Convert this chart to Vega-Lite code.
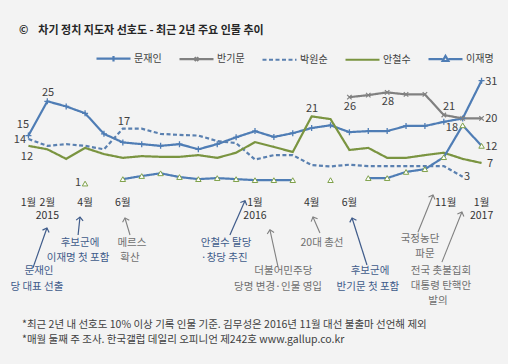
{
  "$schema": "https://vega.github.io/schema/vega-lite/v6.json",
  "width": 472,
  "height": 120,
  "autosize": "none",
  "padding": {"left": 19, "top": 67, "right": 17, "bottom": 177},
  "background": "#f3f3f3",
  "config": {"view": {"stroke": null}, "font": "Noto Sans CJK KR"},
  "title": {"text": "©\u00a0\u00a0\u00a0 차기 정치 지도자 선호도 - 최근 2년 주요 인물 추이", "anchor": "start", "frame": "group", "fontSize": 11, "fontWeight": "bold", "color": "#262626", "offset": 4},
  "datasets": {
    "series": [
      {"name": "문재인", "month": 0, "pct": 15}, {"name": "문재인", "month": 1, "pct": 25}, {"name": "문재인", "month": 2, "pct": 23.5}, {"name": "문재인", "month": 3, "pct": 21.5}, {"name": "문재인", "month": 4, "pct": 15.5}, {"name": "문재인", "month": 5, "pct": 13}, {"name": "문재인", "month": 6, "pct": 12.5}, {"name": "문재인", "month": 7, "pct": 12}, {"name": "문재인", "month": 8, "pct": 12.5}, {"name": "문재인", "month": 9, "pct": 11}, {"name": "문재인", "month": 10, "pct": 12.5}, {"name": "문재인", "month": 11, "pct": 14.5}, {"name": "문재인", "month": 12, "pct": 16.3}, {"name": "문재인", "month": 13, "pct": 14.6}, {"name": "문재인", "month": 14, "pct": 15.7}, {"name": "문재인", "month": 15, "pct": 17.2}, {"name": "문재인", "month": 16, "pct": 18}, {"name": "문재인", "month": 17, "pct": 16}, {"name": "문재인", "month": 18, "pct": 16.3}, {"name": "문재인", "month": 19, "pct": 16.3}, {"name": "문재인", "month": 20, "pct": 17.8}, {"name": "문재인", "month": 21, "pct": 17.8}, {"name": "문재인", "month": 22, "pct": 19}, {"name": "문재인", "month": 23, "pct": 20}, {"name": "문재인", "month": 24, "pct": 31},
      {"name": "반기문", "month": 17, "pct": 26.2}, {"name": "반기문", "month": 18, "pct": 26.8}, {"name": "반기문", "month": 19, "pct": 27.6}, {"name": "반기문", "month": 20, "pct": 27}, {"name": "반기문", "month": 21, "pct": 27}, {"name": "반기문", "month": 22, "pct": 21}, {"name": "반기문", "month": 23, "pct": 20}, {"name": "반기문", "month": 24, "pct": 20},
      {"name": "박원순", "month": 0, "pct": 14}, {"name": "박원순", "month": 1, "pct": 12}, {"name": "박원순", "month": 2, "pct": 12.5}, {"name": "박원순", "month": 3, "pct": 12}, {"name": "박원순", "month": 4, "pct": 11}, {"name": "박원순", "month": 5, "pct": 17}, {"name": "박원순", "month": 6, "pct": 17}, {"name": "박원순", "month": 7, "pct": 15.5}, {"name": "박원순", "month": 8, "pct": 15.2}, {"name": "박원순", "month": 9, "pct": 15}, {"name": "박원순", "month": 10, "pct": 13.4}, {"name": "박원순", "month": 11, "pct": 12.8}, {"name": "박원순", "month": 12, "pct": 8}, {"name": "박원순", "month": 13, "pct": 9.3}, {"name": "박원순", "month": 14, "pct": 9.3}, {"name": "박원순", "month": 15, "pct": 6.4}, {"name": "박원순", "month": 16, "pct": 6}, {"name": "박원순", "month": 17, "pct": 6.5}, {"name": "박원순", "month": 18, "pct": 6.1}, {"name": "박원순", "month": 19, "pct": 6.1}, {"name": "박원순", "month": 20, "pct": 6.1}, {"name": "박원순", "month": 21, "pct": 6.1}, {"name": "박원순", "month": 22, "pct": 6.1}, {"name": "박원순", "month": 23, "pct": 3},
      {"name": "안철수", "month": 0, "pct": 12}, {"name": "안철수", "month": 1, "pct": 11}, {"name": "안철수", "month": 2, "pct": 8.2}, {"name": "안철수", "month": 3, "pct": 11.4}, {"name": "안철수", "month": 4, "pct": 9.6}, {"name": "안철수", "month": 5, "pct": 8.5}, {"name": "안철수", "month": 6, "pct": 9}, {"name": "안철수", "month": 7, "pct": 8.8}, {"name": "안철수", "month": 8, "pct": 8.8}, {"name": "안철수", "month": 9, "pct": 9.3}, {"name": "안철수", "month": 10, "pct": 8.5}, {"name": "안철수", "month": 11, "pct": 10}, {"name": "안철수", "month": 12, "pct": 13.1}, {"name": "안철수", "month": 13, "pct": 11.7}, {"name": "안철수", "month": 14, "pct": 10.2}, {"name": "안철수", "month": 15, "pct": 20.6}, {"name": "안철수", "month": 16, "pct": 19.8}, {"name": "안철수", "month": 17, "pct": 10.8}, {"name": "안철수", "month": 18, "pct": 11.4}, {"name": "안철수", "month": 19, "pct": 8.5}, {"name": "안철수", "month": 20, "pct": 8.5}, {"name": "안철수", "month": 21, "pct": 9.3}, {"name": "안철수", "month": 22, "pct": 10}, {"name": "안철수", "month": 23, "pct": 8.2}, {"name": "안철수", "month": 24, "pct": 7},
      {"name": "이재명", "month": 3, "pct": 1}, {"name": "이재명", "month": 4, "pct": null}, {"name": "이재명", "month": 5, "pct": 2.3}, {"name": "이재명", "month": 6, "pct": 3.2}, {"name": "이재명", "month": 7, "pct": 4}, {"name": "이재명", "month": 8, "pct": 2.9}, {"name": "이재명", "month": 9, "pct": 2.3}, {"name": "이재명", "month": 10, "pct": 2.6}, {"name": "이재명", "month": 11, "pct": 2.3}, {"name": "이재명", "month": 12, "pct": 2}, {"name": "이재명", "month": 13, "pct": 2}, {"name": "이재명", "month": 14, "pct": 2}, {"name": "이재명", "month": 15, "pct": null}, {"name": "이재명", "month": 16, "pct": 2}, {"name": "이재명", "month": 17, "pct": null}, {"name": "이재명", "month": 18, "pct": 2.6}, {"name": "이재명", "month": 19, "pct": 2.6}, {"name": "이재명", "month": 20, "pct": 4.4}, {"name": "이재명", "month": 21, "pct": 5.2}, {"name": "이재명", "month": 22, "pct": 8.7}, {"name": "이재명", "month": 23, "pct": 18}, {"name": "이재명", "month": 24, "pct": 12}
    ],
    "labels": [
      {"t": "15", "mx": -0.29, "vy": 18.1}, {"t": "25", "mx": 1.04, "vy": 27.4}, {"t": "31", "mx": 24.52, "vy": 30.6},
      {"t": "14", "mx": -0.45, "vy": 13.7}, {"t": "17", "mx": 5.06, "vy": 19.0}, {"t": "3", "mx": 23.23, "vy": 2.9},
      {"t": "12", "mx": -0.08, "vy": 8.75}, {"t": "21", "mx": 15.02, "vy": 22.75}, {"t": "7", "mx": 24.45, "vy": 6.7},
      {"t": "26", "mx": 17.03, "vy": 23.3}, {"t": "28", "mx": 19.04, "vy": 24.8}, {"t": "21", "mx": 22.28, "vy": 23.3}, {"t": "20", "mx": 24.52, "vy": 19.8},
      {"t": "1", "mx": 2.63, "vy": 1.2}, {"t": "18", "mx": 22.43, "vy": 17.2}, {"t": "12", "mx": 24.52, "vy": 11.7}
    ],
    "months": [
      {"t": "1월", "mx": 0, "vy": -4.67}, {"t": "2월", "mx": 1, "vy": -4.67}, {"t": "4월", "mx": 3, "vy": -4.67}, {"t": "6월", "mx": 5, "vy": -4.67},
      {"t": "1월", "mx": 12, "vy": -4.67}, {"t": "4월", "mx": 15, "vy": -4.67}, {"t": "6월", "mx": 17, "vy": -4.67}, {"t": "11월", "mx": 22.1, "vy": -4.67}, {"t": "1월", "mx": 24, "vy": -4.67},
      {"t": "2015", "mx": 1, "vy": -8.6}, {"t": "2016", "mx": 12, "vy": -8.6}, {"t": "2017", "mx": 24, "vy": -8.6}
    ],
    "arrows": [
      {"event": "문재인 당 대표 선출", "kind": "인물", "x0": 0.24, "y0": -23.6, "x1": 0.98, "y1": -11.96},
      {"event": "이재명 첫 포함", "kind": "인물", "x0": 2.63, "y0": -14.0, "x1": 2.73, "y1": -8.75},
      {"event": "메르스 확산", "kind": "사건", "x0": 5.38, "y0": -14.0, "x1": 5.11, "y1": -9.04},
      {"event": "안철수 탈당", "kind": "인물", "x0": 10.67, "y0": -14.0, "x1": 11.47, "y1": -4.0},
      {"event": "더불어민주당", "kind": "사건", "x0": 13.22, "y0": -23.3, "x1": 12.79, "y1": -12.5},
      {"event": "20대 총선", "kind": "사건", "x0": 15.44, "y0": -13.4, "x1": 15.07, "y1": -8.75},
      {"event": "반기문 첫 포함", "kind": "인물", "x0": 17.93, "y0": -22.75, "x1": 17.14, "y1": -9.04},
      {"event": "국정농단 파문", "kind": "사건", "x0": 20.63, "y0": -13.2, "x1": 21.43, "y1": -2.33},
      {"event": "촛불집회 탄핵안", "kind": "사건", "x0": 21.9, "y0": -21.9, "x1": 22.96, "y1": -7.3}
    ],
    "notes": [
      {"t": "문재인", "kind": "인물", "mx": 0.56, "vy": -24.6},
      {"t": "당 대표 선출", "kind": "인물", "mx": 0.45, "vy": -29.2},
      {"t": "후보군에", "kind": "인물", "mx": 2.73, "vy": -16.3},
      {"t": "이재명 첫 포함", "kind": "인물", "mx": 2.63, "vy": -20.7},
      {"t": "메르스", "kind": "사건", "mx": 5.48, "vy": -16.3},
      {"t": "확산", "kind": "사건", "mx": 5.38, "vy": -20.7},
      {"t": "안철수 탈당", "kind": "인물", "mx": 10.47, "vy": -16.3},
      {"t": "·창당 추진", "kind": "인물", "mx": 10.37, "vy": -20.7},
      {"t": "더불어민주당", "kind": "사건", "mx": 13.5, "vy": -24.6},
      {"t": "당명 변경·인물 영입", "kind": "사건", "mx": 13.22, "vy": -29.2},
      {"t": "20대 총선", "kind": "사건", "mx": 15.55, "vy": -16.3},
      {"t": "후보군에", "kind": "인물", "mx": 18.09, "vy": -24.6},
      {"t": "반기문 첫 포함", "kind": "인물", "mx": 17.98, "vy": -29.2},
      {"t": "국정농단", "kind": "사건", "mx": 20.74, "vy": -15.2},
      {"t": "파문", "kind": "사건", "mx": 21.0, "vy": -19.45},
      {"t": "전국 촛불집회", "kind": "사건", "mx": 21.85, "vy": -24.5},
      {"t": "대통령 탄핵안", "kind": "사건", "mx": 21.85, "vy": -28.9},
      {"t": "발의", "kind": "사건", "mx": 21.69, "vy": -33.15}
    ],
    "foot": [
      {"t": "*최근 2년 내 선호도 10% 이상 기록 인물 기준. 김무성은 2016년 11월 대선 불출마 선언해 제외", "mx": -0.34, "vy": -40.25},
      {"t": "*매월 둘째 주 조사. 한국갤럽 데일리 오피니언 제242호 www.gallup.co.kr", "mx": -0.34, "vy": -44.6}
    ]
  },
  "layer": [
    {
      "data": {"name": "series"},
      "mark": {"type": "line", "strokeWidth": 2.2},
      "encoding": {
        "x": {"field": "month", "type": "quantitative", "scale": {"domain": [-0.5, 24.5], "nice": false, "zero": false},
          "axis": {"values": [-0.5, 0.5, 1.5, 2.5, 3.5, 4.5, 5.5, 6.5, 7.5, 8.5, 9.5, 10.5, 11.5, 12.5, 13.5, 14.5, 15.5, 16.5, 17.5, 18.5, 19.5, 20.5, 21.5, 22.5, 23.5, 24.5], "labels": false, "grid": false, "ticks": true, "tickSize": 4, "tickColor": "#a6a6a6", "domainColor": "#a6a6a6", "title": null}},
        "y": {"field": "pct", "type": "quantitative", "scale": {"domain": [0, 35], "nice": false, "zero": false},
          "axis": {"values": [10, 20, 30], "grid": true, "gridColor": "#d9d9d9", "labels": false, "ticks": false, "domain": false, "title": null}},
        "color": {"field": "name", "type": "nominal",
          "scale": {"domain": ["문재인", "반기문", "박원순", "안철수", "이재명"], "range": ["#4F7DB5", "#808080", "#5A80B0", "#7A9440", "#4F7DB5"]},
          "legend": {"orient": "none", "legendX": 76, "legendY": -27, "direction": "horizontal", "title": null, "symbolSize": 1156, "symbolStrokeWidth": 2.2, "labelFontSize": 10, "labelColor": "#404040", "labelOffset": 2, "columnPadding": 13, "padding": 0,
            "encode": {"symbols": {"update": {"shape": {"signal": "datum.value === '문재인' ? 'M-1,0H1M0,-0.16V0.16' : datum.value === '반기문' ? 'M-1,0H1M-0.11,-0.11L0.11,0.11M-0.11,0.11L0.11,-0.11' : datum.value === '이재명' ? 'M-1,0H-0.17M0.17,0H1M0,-0.19L0.17,0.11H-0.17Z' : 'M-1,0H1'"}}}}}},
        "strokeDash": {"field": "name", "type": "nominal",
          "scale": {"domain": ["문재인", "반기문", "박원순", "안철수", "이재명"], "range": [[1, 0], [1, 0], [4, 2.5], [1, 0], [1, 0]]},
          "legend": {"orient": "none", "legendX": 76, "legendY": -27, "direction": "horizontal", "title": null, "symbolSize": 1156, "symbolStrokeWidth": 2.2, "labelFontSize": 10, "labelColor": "#404040", "labelOffset": 2, "columnPadding": 13, "padding": 0,
            "encode": {"symbols": {"update": {"shape": {"signal": "datum.value === '문재인' ? 'M-1,0H1M0,-0.16V0.16' : datum.value === '반기문' ? 'M-1,0H1M-0.11,-0.11L0.11,0.11M-0.11,0.11L0.11,-0.11' : datum.value === '이재명' ? 'M-1,0H-0.17M0.17,0H1M0,-0.19L0.17,0.11H-0.17Z' : 'M-1,0H1'"}}}}}}
      }
    },
    {
      "data": {"name": "series"},
      "transform": [{"filter": "datum.name === '문재인'"}],
      "mark": {"type": "point", "shape": "M0,-1V1M-1,0H1", "size": 36, "filled": false, "strokeWidth": 1.3, "color": "#4F7DB5", "opacity": 1},
      "encoding": {
        "x": {"field": "month", "type": "quantitative", "scale": {"domain": [-0.5, 24.5], "nice": false, "zero": false}, "axis": null},
        "y": {"field": "pct", "type": "quantitative", "scale": {"domain": [0, 35], "nice": false, "zero": false}, "axis": null}
      }
    },
    {
      "data": {"name": "series"},
      "transform": [{"filter": "datum.name === '반기문'"}],
      "mark": {"type": "point", "shape": "M-1,-1L1,1M-1,1L1,-1", "size": 20, "filled": false, "strokeWidth": 1.2, "color": "#808080", "opacity": 1},
      "encoding": {
        "x": {"field": "month", "type": "quantitative", "scale": {"domain": [-0.5, 24.5], "nice": false, "zero": false}, "axis": null},
        "y": {"field": "pct", "type": "quantitative", "scale": {"domain": [0, 35], "nice": false, "zero": false}, "axis": null}
      }
    },
    {
      "data": {"name": "series"},
      "transform": [{"filter": "datum.name === '이재명' && datum.pct != null"}],
      "mark": {"type": "point", "shape": "triangle-up", "size": 30, "filled": true, "fill": "#ffffff", "stroke": "#7FA14A", "strokeWidth": 1, "opacity": 1},
      "encoding": {
        "x": {"field": "month", "type": "quantitative", "scale": {"domain": [-0.5, 24.5], "nice": false, "zero": false}, "axis": null},
        "y": {"field": "pct", "type": "quantitative", "scale": {"domain": [0, 35], "nice": false, "zero": false}, "axis": null}
      }
    },
    {
      "data": {"name": "labels"},
      "mark": {"type": "text", "fontSize": 11, "color": "#404040", "align": "center", "baseline": "middle"},
      "encoding": {
        "x": {"field": "mx", "type": "quantitative", "scale": {"domain": [-0.5, 24.5], "nice": false, "zero": false}, "axis": null},
        "y": {"field": "vy", "type": "quantitative", "scale": {"domain": [0, 35], "nice": false, "zero": false}, "axis": null},
        "text": {"field": "t"}
      }
    },
    {
      "data": {"name": "months"},
      "mark": {"type": "text", "fontSize": 10.5, "color": "#333333", "align": "center", "baseline": "middle"},
      "encoding": {
        "x": {"field": "mx", "type": "quantitative", "scale": {"domain": [-0.5, 24.5], "nice": false, "zero": false}, "axis": null},
        "y": {"field": "vy", "type": "quantitative", "scale": {"domain": [0, 35], "nice": false, "zero": false}, "axis": null},
        "text": {"field": "t"}
      }
    },
    {
      "data": {"name": "arrows"},
      "transform": [{"filter": "datum.kind === '인물'"}],
      "mark": {"type": "rule", "strokeWidth": 1.2, "color": "#3F5B8A"},
      "encoding": {
        "x": {"field": "x0", "type": "quantitative", "scale": {"domain": [-0.5, 24.5], "nice": false, "zero": false}, "axis": null},
        "y": {"field": "y0", "type": "quantitative", "scale": {"domain": [0, 35], "nice": false, "zero": false}, "axis": null},
        "x2": {"field": "x1"},
        "y2": {"field": "y1"}
      }
    },
    {
      "data": {"name": "arrows"},
      "transform": [{"filter": "datum.kind === '사건'"}],
      "mark": {"type": "rule", "strokeWidth": 1.1, "color": "#808080"},
      "encoding": {
        "x": {"field": "x0", "type": "quantitative", "scale": {"domain": [-0.5, 24.5], "nice": false, "zero": false}, "axis": null},
        "y": {"field": "y0", "type": "quantitative", "scale": {"domain": [0, 35], "nice": false, "zero": false}, "axis": null},
        "x2": {"field": "x1"},
        "y2": {"field": "y1"}
      }
    },
    {
      "data": {"name": "arrows"},
      "transform": [{"filter": "datum.kind === '인물'"}, {"calculate": "atan2(18.88 * (datum.x1 - datum.x0), 3.4286 * (datum.y1 - datum.y0)) * 180 / PI", "as": "ang"}],
      "mark": {"type": "point", "shape": "M-1,1L0,0L1,1", "size": 49, "filled": false, "strokeWidth": 1.2, "color": "#3F5B8A", "opacity": 1},
      "encoding": {
        "x": {"field": "x1", "type": "quantitative", "scale": {"domain": [-0.5, 24.5], "nice": false, "zero": false}, "axis": null},
        "y": {"field": "y1", "type": "quantitative", "scale": {"domain": [0, 35], "nice": false, "zero": false}, "axis": null},
        "angle": {"field": "ang", "type": "quantitative", "scale": null}
      }
    },
    {
      "data": {"name": "arrows"},
      "transform": [{"filter": "datum.kind === '사건'"}, {"calculate": "atan2(18.88 * (datum.x1 - datum.x0), 3.4286 * (datum.y1 - datum.y0)) * 180 / PI", "as": "ang"}],
      "mark": {"type": "point", "shape": "M-1,1L0,0L1,1", "size": 49, "filled": false, "strokeWidth": 1.1, "color": "#808080", "opacity": 1},
      "encoding": {
        "x": {"field": "x1", "type": "quantitative", "scale": {"domain": [-0.5, 24.5], "nice": false, "zero": false}, "axis": null},
        "y": {"field": "y1", "type": "quantitative", "scale": {"domain": [0, 35], "nice": false, "zero": false}, "axis": null},
        "angle": {"field": "ang", "type": "quantitative", "scale": null}
      }
    },
    {
      "data": {"name": "notes"},
      "transform": [{"filter": "datum.kind === '인물'"}],
      "mark": {"type": "text", "fontSize": 10.5, "color": "#3F5B8A", "align": "center", "baseline": "middle"},
      "encoding": {
        "x": {"field": "mx", "type": "quantitative", "scale": {"domain": [-0.5, 24.5], "nice": false, "zero": false}, "axis": null},
        "y": {"field": "vy", "type": "quantitative", "scale": {"domain": [0, 35], "nice": false, "zero": false}, "axis": null},
        "text": {"field": "t"}
      }
    },
    {
      "data": {"name": "notes"},
      "transform": [{"filter": "datum.kind === '사건'"}],
      "mark": {"type": "text", "fontSize": 10.5, "color": "#6F6F6F", "align": "center", "baseline": "middle"},
      "encoding": {
        "x": {"field": "mx", "type": "quantitative", "scale": {"domain": [-0.5, 24.5], "nice": false, "zero": false}, "axis": null},
        "y": {"field": "vy", "type": "quantitative", "scale": {"domain": [0, 35], "nice": false, "zero": false}, "axis": null},
        "text": {"field": "t"}
      }
    },
    {
      "data": {"name": "foot"},
      "mark": {"type": "text", "fontSize": 10.5, "color": "#404040", "align": "left", "baseline": "middle"},
      "encoding": {
        "x": {"field": "mx", "type": "quantitative", "scale": {"domain": [-0.5, 24.5], "nice": false, "zero": false}, "axis": null},
        "y": {"field": "vy", "type": "quantitative", "scale": {"domain": [0, 35], "nice": false, "zero": false}, "axis": null},
        "text": {"field": "t"}
      }
    }
  ]
}
